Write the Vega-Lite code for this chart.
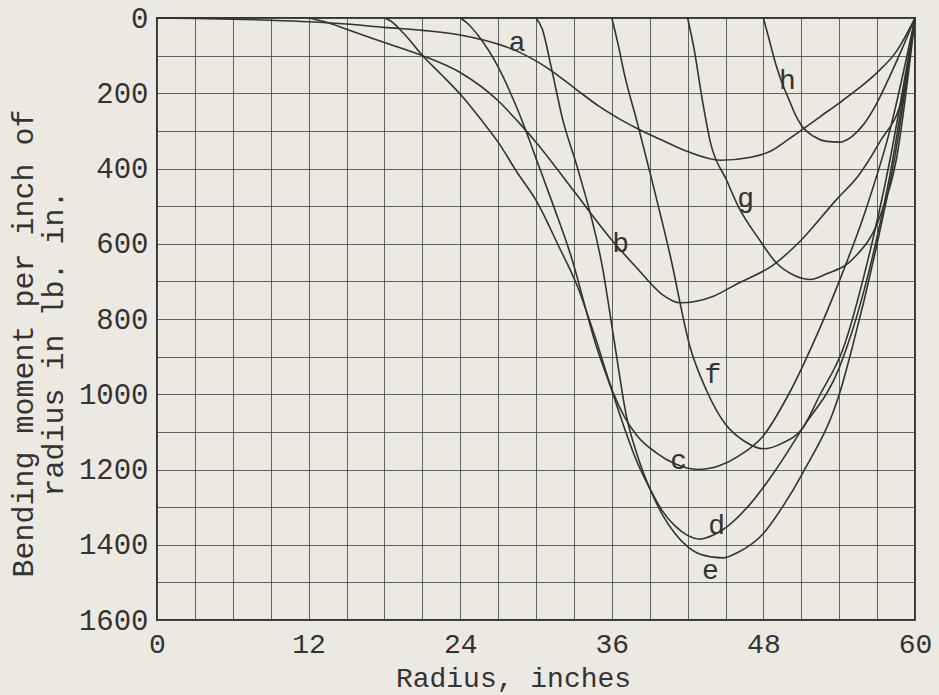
{
  "$schema": "https://vega.github.io/schema/vega-lite/v6.json",
  "width": 758,
  "height": 602,
  "autosize": {"type": "none"},
  "padding": {"left": 157, "top": 18, "right": 24, "bottom": 75},
  "background": "#ece9e2",
  "config": {"view": {"stroke": "#333333", "strokeWidth": 2}, "font": "Liberation Mono"},
  "datasets": {
    "curves": [
      {"c":"a","r":0,"M":0},{"c":"a","r":3,"M":1},{"c":"a","r":6,"M":3},{"c":"a","r":9,"M":6},{"c":"a","r":12,"M":10},{"c":"a","r":15,"M":16},{"c":"a","r":18,"M":25},{"c":"a","r":21,"M":33},{"c":"a","r":24,"M":45},{"c":"a","r":26,"M":60},{"c":"a","r":28.5,"M":88},{"c":"a","r":31,"M":135},{"c":"a","r":33,"M":185},{"c":"a","r":35,"M":235},{"c":"a","r":36.7,"M":270},{"c":"a","r":38.2,"M":297},{"c":"a","r":40,"M":325},{"c":"a","r":42,"M":355},{"c":"a","r":44.6,"M":378},{"c":"a","r":47,"M":370},{"c":"a","r":48.5,"M":355},{"c":"a","r":50,"M":322},{"c":"a","r":51.1,"M":296},{"c":"a","r":52.5,"M":262},{"c":"a","r":54,"M":226},{"c":"a","r":55.5,"M":188},{"c":"a","r":57,"M":145},{"c":"a","r":58.5,"M":90},{"c":"a","r":60,"M":0},
      {"c":"b","r":12,"M":0},{"c":"b","r":13.5,"M":12},{"c":"b","r":15,"M":30},{"c":"b","r":18,"M":65},{"c":"b","r":21,"M":100},{"c":"b","r":24,"M":145},{"c":"b","r":27,"M":220},{"c":"b","r":28.7,"M":280},{"c":"b","r":30,"M":330},{"c":"b","r":33,"M":460},{"c":"b","r":36,"M":590},{"c":"b","r":38,"M":665},{"c":"b","r":40,"M":735},{"c":"b","r":41.4,"M":757},{"c":"b","r":44,"M":740},{"c":"b","r":46,"M":705},{"c":"b","r":48.8,"M":656},{"c":"b","r":51,"M":590},{"c":"b","r":53.8,"M":482},{"c":"b","r":55.5,"M":420},{"c":"b","r":57.2,"M":330},{"c":"b","r":59,"M":210},{"c":"b","r":60,"M":0},
      {"c":"c","r":18,"M":0},{"c":"c","r":18.5,"M":8},{"c":"c","r":19.5,"M":40},{"c":"c","r":21.1,"M":103},{"c":"c","r":22.5,"M":150},{"c":"c","r":24.2,"M":210},{"c":"c","r":25.6,"M":268},{"c":"c","r":27,"M":330},{"c":"c","r":28.5,"M":410},{"c":"c","r":30.1,"M":490},{"c":"c","r":31.7,"M":600},{"c":"c","r":33.3,"M":715},{"c":"c","r":34.7,"M":850},{"c":"c","r":36.1,"M":995},{"c":"c","r":37,"M":1060},{"c":"c","r":38,"M":1110},{"c":"c","r":39.5,"M":1155},{"c":"c","r":41,"M":1185},{"c":"c","r":42.8,"M":1200},{"c":"c","r":44.5,"M":1190},{"c":"c","r":46,"M":1165},{"c":"c","r":48,"M":1110},{"c":"c","r":50,"M":1000},{"c":"c","r":52,"M":860},{"c":"c","r":54,"M":700},{"c":"c","r":56,"M":520},{"c":"c","r":58,"M":300},{"c":"c","r":60,"M":0},
      {"c":"d","r":24,"M":0},{"c":"d","r":24.5,"M":12},{"c":"d","r":25.5,"M":50},{"c":"d","r":27,"M":130},{"c":"d","r":28.5,"M":240},{"c":"d","r":30.3,"M":400},{"c":"d","r":31.5,"M":510},{"c":"d","r":32.7,"M":625},{"c":"d","r":34.8,"M":875},{"c":"d","r":35.9,"M":980},{"c":"d","r":37,"M":1090},{"c":"d","r":38,"M":1180},{"c":"d","r":39,"M":1250},{"c":"d","r":40,"M":1310},{"c":"d","r":41,"M":1350},{"c":"d","r":42,"M":1375},{"c":"d","r":43,"M":1385},{"c":"d","r":44,"M":1375},{"c":"d","r":45,"M":1355},{"c":"d","r":47,"M":1290},{"c":"d","r":49,"M":1200},{"c":"d","r":51.1,"M":1090},{"c":"d","r":54,"M":930},{"c":"d","r":56,"M":720},{"c":"d","r":58,"M":420},{"c":"d","r":60,"M":0},
      {"c":"e","r":30,"M":0},{"c":"e","r":30.5,"M":30},{"c":"e","r":31.2,"M":130},{"c":"e","r":32.1,"M":268},{"c":"e","r":33.3,"M":400},{"c":"e","r":35.3,"M":670},{"c":"e","r":36.2,"M":860},{"c":"e","r":37.2,"M":1065},{"c":"e","r":38,"M":1160},{"c":"e","r":39,"M":1250},{"c":"e","r":40,"M":1320},{"c":"e","r":41,"M":1370},{"c":"e","r":42,"M":1405},{"c":"e","r":43,"M":1425},{"c":"e","r":44.8,"M":1435},{"c":"e","r":46,"M":1420},{"c":"e","r":48,"M":1370},{"c":"e","r":49.5,"M":1300},{"c":"e","r":51.1,"M":1210},{"c":"e","r":54.1,"M":990},{"c":"e","r":55,"M":880},{"c":"e","r":57,"M":600},{"c":"e","r":58.5,"M":350},{"c":"e","r":60,"M":0},
      {"c":"f","r":36,"M":0},{"c":"f","r":36.5,"M":70},{"c":"f","r":37,"M":150},{"c":"f","r":38,"M":276},{"c":"f","r":39,"M":408},{"c":"f","r":40.6,"M":628},{"c":"f","r":42.2,"M":875},{"c":"f","r":43.5,"M":990},{"c":"f","r":45,"M":1080},{"c":"f","r":46.5,"M":1125},{"c":"f","r":48,"M":1145},{"c":"f","r":49.5,"M":1130},{"c":"f","r":51.1,"M":1090},{"c":"f","r":52.5,"M":1000},{"c":"f","r":54.3,"M":880},{"c":"f","r":56,"M":680},{"c":"f","r":58,"M":380},{"c":"f","r":60,"M":0},
      {"c":"g","r":42,"M":0},{"c":"g","r":42.5,"M":80},{"c":"g","r":43.2,"M":225},{"c":"g","r":43.8,"M":330},{"c":"g","r":45.1,"M":432},{"c":"g","r":46,"M":500},{"c":"g","r":47.7,"M":590},{"c":"g","r":49,"M":650},{"c":"g","r":50.5,"M":685},{"c":"g","r":51.7,"M":695},{"c":"g","r":53,"M":680},{"c":"g","r":55.1,"M":640},{"c":"g","r":57.2,"M":530},{"c":"g","r":58.5,"M":380},{"c":"g","r":60,"M":0},
      {"c":"h","r":48,"M":0},{"c":"h","r":48.4,"M":50},{"c":"h","r":49,"M":125},{"c":"h","r":49.5,"M":175},{"c":"h","r":50,"M":215},{"c":"h","r":50.5,"M":255},{"c":"h","r":51,"M":285},{"c":"h","r":52,"M":315},{"c":"h","r":53,"M":328},{"c":"h","r":54,"M":330},{"c":"h","r":55,"M":315},{"c":"h","r":56,"M":280},{"c":"h","r":57,"M":225},{"c":"h","r":58,"M":155},{"c":"h","r":59,"M":80},{"c":"h","r":60,"M":0}
    ],
    "labels": [
      {"label":"a","r":28.5,"M":66},
      {"label":"b","r":36.7,"M":600},
      {"label":"c","r":41.3,"M":1177},
      {"label":"d","r":44.3,"M":1351},
      {"label":"e","r":43.8,"M":1470},
      {"label":"f","r":44,"M":950},
      {"label":"g","r":46.6,"M":480},
      {"label":"h","r":49.9,"M":168}
    ]
  },
  "layer": [
    {
      "data": {"name": "curves"},
      "mark": {"type": "line", "interpolate": "monotone", "color": "#333333", "strokeWidth": 1.6},
      "encoding": {
        "x": {
          "field": "r", "type": "quantitative",
          "scale": {"domain": [0, 60], "nice": false, "zero": false},
          "axis": {
            "values": [0,3,6,9,12,15,18,21,24,27,30,33,36,39,42,45,48,51,54,57,60],
            "tickCount": 100,
            "labelExpr": "datum.value % 12 === 0 ? datum.label : ''",
            "format": "d",
            "grid": true, "gridColor": "#4a4a4a", "gridWidth": 1, "gridOpacity": 0.85,
            "ticks": false, "domain": false,
            "labelFont": "Liberation Mono", "labelFontSize": 28, "labelColor": "#333333",
            "labelPadding": 10, "labelFlush": false, "labelOverlap": false,
            "title": "Radius, inches",
            "titleFont": "Liberation Mono", "titleFontSize": 28, "titleFontWeight": "normal", "titleColor": "#333333",
            "titleX": 356, "titleY": 66, "titleAlign": "center", "titleBaseline": "alphabetic"
          }
        },
        "y": {
          "field": "M", "type": "quantitative",
          "scale": {"domain": [0, 1600], "reverse": true, "nice": false},
          "axis": {
            "values": [0,100,200,300,400,500,600,700,800,900,1000,1100,1200,1300,1400,1500,1600],
            "tickCount": 100,
            "labelExpr": "datum.value % 200 === 0 ? datum.label : ''",
            "format": "d",
            "grid": true, "gridColor": "#4a4a4a", "gridWidth": 1, "gridOpacity": 0.85,
            "ticks": false, "domain": false,
            "labelFont": "Liberation Mono", "labelFontSize": 29, "labelColor": "#333333",
            "labelPadding": 9, "labelOverlap": false, "labelBaseline": "middle",
            "title": ["Bending moment per inch of", "radius in lb. in."],
            "titleFont": "Liberation Mono", "titleFontSize": 30, "titleFontWeight": "normal", "titleColor": "#333333",
            "titleAngle": -90, "titleX": -125, "titleY": 325, "titleAlign": "center", "titleBaseline": "alphabetic", "titleLineHeight": 30
          }
        },
        "detail": {"field": "c", "type": "nominal"}
      }
    },
    {
      "data": {"name": "labels"},
      "mark": {"type": "text", "font": "Liberation Mono", "fontSize": 28, "color": "#333333", "align": "center", "baseline": "middle"},
      "encoding": {
        "x": {"field": "r", "type": "quantitative"},
        "y": {"field": "M", "type": "quantitative"},
        "text": {"field": "label", "type": "nominal"}
      }
    }
  ]
}
